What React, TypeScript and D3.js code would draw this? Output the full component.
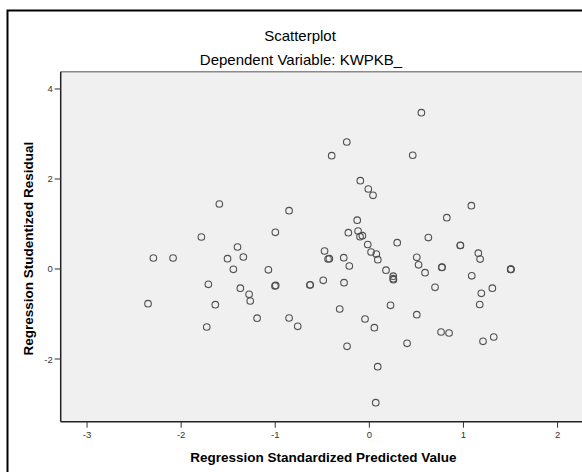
import React from "react";
import * as d3 from "d3";

const title = "Scatterplot";
const subtitle = "Dependent Variable: KWPKB_";
const xTitle = "Regression Standardized Predicted Value";
const yTitle = "Regression Studentized Residual";

const xTicks = [-3, -2, -1, 0, 1, 2];
const yTicks = [-2, 0, 2, 4];

// Regression standardized predicted values
const predicted = [
  -2.352, -2.295, -2.086, -1.785, -1.728, -1.711, -1.637, -1.594, -1.507, -1.445,
  -1.401, -1.371, -1.339, -1.278, -1.266, -1.193, -1.073, -0.999, -0.995, -1.003,
  -0.853, -0.853, -0.761, -0.628, -0.632, -0.490, -0.476, -0.439, -0.425, -0.400,
  -0.315, -0.272, -0.269, -0.240, -0.237, -0.223, -0.213, -0.129, -0.120, -0.099,
  -0.074, -0.096, -0.046, -0.017, -0.011, 0.018, 0.039, 0.053, 0.068, 0.074,
  0.089, 0.090, 0.177, 0.225, 0.254, 0.254, 0.256, 0.296, 0.401, 0.461,
  0.504, 0.504, 0.523, 0.553, 0.592, 0.627, 0.698, 0.762, 0.770, 0.773,
  0.823, 0.847, 0.966, 0.968, 1.084, 1.088, 1.158, 1.173, 1.177, 1.190,
  1.208, 1.307, 1.322, 1.503, 1.504, 1.502,
];

// Regression studentized residuals
const residual = [
  -0.771, 0.244, 0.244, 0.711, -1.289, -0.340, -0.793, 1.444, 0.229, -0.007,
  0.489, -0.427, 0.267, -0.562, -0.711, -1.093, -0.018, 0.816, -0.365, -0.375,
  1.296, -1.089, -1.273, -0.351, -0.355, -0.251, 0.400, 0.222, 0.229, 2.518,
  -0.889, 0.251, -0.304, 2.822, -1.718, 0.807, 0.067, 1.084, 0.844, 0.718,
  0.740, 1.962, -1.111, 0.544, 1.778, 0.378, 1.638, -1.304, -2.971, 0.333,
  -2.171, 0.207, -0.027, -0.807, -0.160, -0.216, -0.238, 0.584, -1.651, 2.527,
  0.260, -1.016, 0.093, 3.473, -0.082, 0.698, -0.407, -1.400, 0.036, 0.040,
  1.140, -1.422, 0.522, 0.526, 1.407, -0.151, 0.351, -0.789, 0.220, -0.540,
  -1.607, -0.427, -1.511, -0.007, -0.003, -0.010,
];

const W = 582;
const H = 472;
const plot = { left: 60.7, top: 71.7, bottom: 421.7 };
const xUnit = 94.1;
const xMin = -3.28;
const xMax = 2.5;

export default function App() {
  const x = d3
    .scaleLinear()
    .domain([xMin, xMax])
    .range([plot.left, plot.left + (xMax - xMin) * xUnit]);
  const y = d3.scaleLinear().domain([-3.393, 4.384]).range([plot.bottom, plot.top]);
  const right = x(xMax);
  const font = "'Liberation Sans', Arial, sans-serif";

  return (
    <svg
      width={W}
      height={H}
      style={{ position: "absolute", left: 0, top: 0, background: "#fff" }}
      fontFamily={font}
    >
      <rect x={0} y={0} width={W} height={H} fill="#fff" />
      {/* outer frame (cropped on the right/bottom) */}
      <rect x={7.5} y={10.5} width={W + 20} height={H + 20} fill="none" stroke="#000" strokeWidth={2} />

      <text x={300} y={41} textAnchor="middle" fontSize={15} fill="#000">
        {title}
      </text>
      <text x={301} y={65} textAnchor="middle" fontSize={15} fill="#000">
        {subtitle}
      </text>

      {/* plot area */}
      <rect x={plot.left} y={plot.top} width={right - plot.left} height={plot.bottom - plot.top} fill="#f0f0f0" />
      <line x1={plot.left} x2={right} y1={plot.top} y2={plot.top} stroke="#8a8a8a" strokeWidth={1.5} />
      <line x1={plot.left} x2={plot.left} y1={plot.top} y2={plot.bottom} stroke="#222" strokeWidth={1.5} />
      <line x1={plot.left} x2={right} y1={plot.bottom} y2={plot.bottom} stroke="#222" strokeWidth={1.5} />

      {/* y ticks */}
      {yTicks.map((t) => (
        <g key={"y" + t}>
          <line x1={plot.left - 6} x2={plot.left} y1={y(t)} y2={y(t)} stroke="#333" strokeWidth={1} />
          <text x={plot.left - 8} y={y(t) + 3.5} textAnchor="end" fontSize={9.5} fill="#333">
            {t}
          </text>
        </g>
      ))}
      {/* x ticks */}
      {xTicks.map((t) => (
        <g key={"x" + t}>
          <line x1={x(t)} x2={x(t)} y1={plot.bottom} y2={plot.bottom + 6} stroke="#333" strokeWidth={1} />
          <text x={x(t)} y={plot.bottom + 16} textAnchor="middle" fontSize={9.5} fill="#333">
            {t}
          </text>
        </g>
      ))}

      {/* points */}
      {predicted.map((px, i) => (
        <circle
          key={i}
          cx={x(px)}
          cy={y(residual[i])}
          r={3.3}
          fill="none"
          stroke="#505050"
          strokeWidth={1.1}
        />
      ))}

      <text x={(plot.left + 560) / 2 + 13} y={462} textAnchor="middle" fontSize={13.5} fontWeight="bold" fill="#000">
        {xTitle}
      </text>
      <text
        transform={`translate(33, ${(plot.top + plot.bottom) / 2 + 2}) rotate(-90)`}
        textAnchor="middle"
        fontSize={13.5}
        fontWeight="bold"
        fill="#000"
      >
        {yTitle}
      </text>
    </svg>
  );
}
